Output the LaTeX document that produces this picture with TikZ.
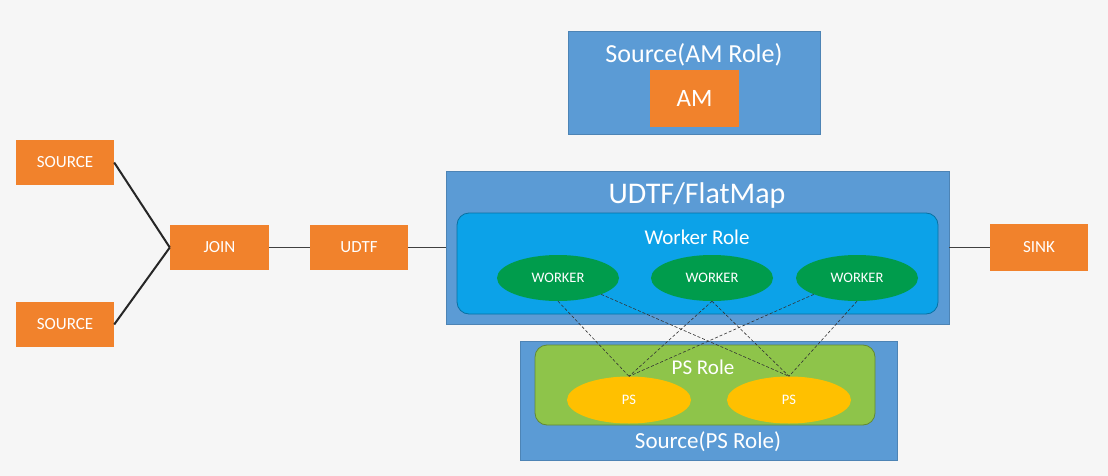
\documentclass[tikz,border=0pt]{standalone}
\usepackage{fontspec}
\setmainfont{Carlito}
\usetikzlibrary{shapes.geometric}
\definecolor{opsorange}{RGB}{241,130,44}
\definecolor{roleblue}{RGB}{91,155,213}
\definecolor{workerblue}{RGB}{12,162,232}
\definecolor{workergreen}{RGB}{0,156,76}
\definecolor{psgreen}{RGB}{142,196,74}
\definecolor{psyellow}{RGB}{255,192,0}
\definecolor{bggray}{RGB}{246,246,246}

\begin{document}
\begin{tikzpicture}[
  x=1pt, y=-1pt,
  op/.style={draw=none, fill=opsorange, text=white, inner sep=0pt, minimum width=98pt, minimum height=45pt, font=\fontsize{17}{19}\selectfont},
  rolebox/.style={draw=roleblue!85!black, line width=0.6pt, fill=roleblue, inner sep=0pt},
  inner/.style={draw=#1!70!black, line width=0.8pt, fill=#1, rounded corners=12pt, inner sep=0pt},
  task/.style={ellipse, draw=none, fill=#1, text=white, inner sep=0pt, minimum width=122pt, minimum height=46pt, font=\fontsize{14.5}{16}\selectfont},
  title/.style={text=white, inner sep=0pt, font=\fontsize{#1}{#1}\selectfont},
  conn/.style={line width=2pt, black!85},
  thin/.style={line width=1.2pt, black!75},
  link/.style={densely dashed, line width=0.6pt, black!80},
]

% background fixes the page size
\fill[bggray] (0,0) rectangle (1108,476);

% AM role on top
\node[rolebox, minimum width=252pt, minimum height=103pt] (amrole) at (694,82.5) {};
\node[title=26] (amtitle) at (694,55) {Source(AM Role)};
\node[op, minimum width=89pt, minimum height=57pt, font=\fontsize{25}{27}\selectfont] (am) at (694.5,98.5) {AM};

% UDTF / FlatMap with the workers
\node[rolebox, minimum width=503pt, minimum height=153pt] (flat) at (697.5,247.5) {};
\node[title=30] (flattitle) at (697,196) {UDTF/FlatMap};
\node[inner=workerblue, minimum width=481pt, minimum height=101pt] (workerrole) at (697.5,263.5) {};
\node[title=21] (workertitle) at (697,237) {Worker Role};
\node[task=workergreen] (w1) at (558,278) {WORKER};
\node[task=workergreen] (w2) at (712,278) {WORKER};
\node[task=workergreen] (w3) at (857,278) {WORKER};

% PS role below
\node[rolebox, minimum width=377pt, minimum height=119pt] (psrole) at (708.5,400.5) {};
\node[inner=psgreen, minimum width=340pt, minimum height=80pt] (psinner) at (705,385) {};
\node[title=21] (pstitle) at (703,367) {PS Role};
\node[title=23] (pssource) at (708,442) {Source(PS Role)};
\node[task=psyellow, minimum width=124pt, minimum height=47pt] (ps1) at (629,400) {PS};
\node[task=psyellow, minimum width=124pt, minimum height=47pt] (ps2) at (789,400) {PS};

% operators
\node[op] (src1) at (65,162.5) {SOURCE};
\node[op] (src2) at (65,324.5) {SOURCE};
\node[op, minimum width=99pt] (join) at (219.5,247.5) {JOIN};
\node[op] (udtf) at (359,247.5) {UDTF};
\node[op, minimum height=47pt] (sink) at (1039,247.5) {SINK};

% Connections
\foreach \a in {src1, src2}
  \draw[conn] (\a.east) -- (join.west);
\draw[thin] (join) -- (udtf);
\draw[thin] (udtf) -- (flat);
\draw[thin] (flat) -- (sink);

% worker to ps links
\foreach \a/\b in {w1.south/ps1, w1.south east/ps2, w2.south/ps1, w2.south/ps2, w3.south west/ps1, w3.south/ps2}
  \draw[link] (\a) -- (\b.north);

\end{tikzpicture}
\end{document}
